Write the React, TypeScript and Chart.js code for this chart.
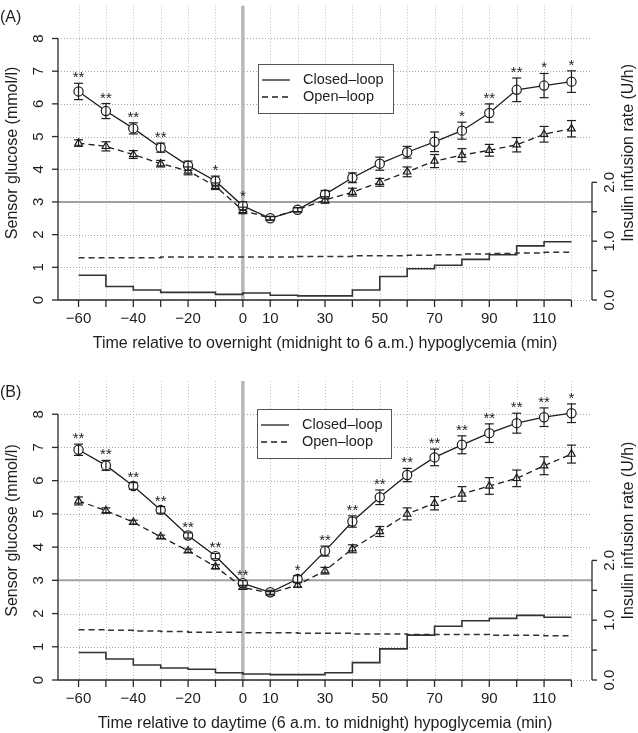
import React, { useEffect, useRef } from 'react';
import { Chart, registerables } from 'chart.js';

Chart.register(...registerables);

const FONT = '"Liberation Sans", Arial, Helvetica, sans-serif';
const INK = '#1e1e1e';

// ---------- data ----------
const minutes = [-60, -50, -40, -30, -20, -10, 0, 10, 20, 30, 40, 50, 60, 70, 80, 90, 100, 110, 120];
const xLabelValues = [-60, -40, -20, 0, 10, 30, 50, 70, 90, 110];
const glucoseTicks = [0, 1, 2, 3, 4, 5, 6, 7, 8];
const insulinTicks = [0, 0.5, 1, 1.5, 2];
const insulinLabelTicks = [0, 1, 2];

// Panel A (overnight)
const closedA = [6.38, 5.78, 5.25, 4.66, 4.11, 3.64, 2.88, 2.5, 2.76, 3.23, 3.74, 4.17, 4.52, 4.84, 5.18, 5.72, 6.43, 6.56, 6.68];
const closedErrA = [0.25, 0.23, 0.17, 0.14, 0.14, 0.15, 0.12, 0.06, 0.07, 0.12, 0.15, 0.2, 0.18, 0.3, 0.26, 0.28, 0.36, 0.37, 0.33];
const openA = [4.8, 4.7, 4.45, 4.17, 3.95, 3.48, 2.74, 2.5, 2.76, 3.06, 3.3, 3.6, 3.92, 4.25, 4.43, 4.58, 4.75, 5.07, 5.24];
const openErrA = [0.1, 0.14, 0.12, 0.1, 0.12, 0.1, 0.1, 0.05, 0.06, 0.1, 0.12, 0.12, 0.15, 0.2, 0.2, 0.18, 0.22, 0.24, 0.25];
const starsA = ['**', '**', '**', '**', '', '*', '*', '', '', '', '', '', '', '', '*', '**', '**', '*', '*'];
const insulinClosedA = [0.42, 0.23, 0.17, 0.13, 0.13, 0.095, 0.12, 0.08, 0.07, 0.07, 0.17, 0.4, 0.53, 0.59, 0.69, 0.77, 0.92, 0.99];
const insulinOpenA = [0.72, 0.72, 0.72, 0.73, 0.73, 0.73, 0.73, 0.73, 0.74, 0.74, 0.75, 0.75, 0.76, 0.77, 0.78, 0.79, 0.8, 0.81];

// Panel B (daytime)
const closedB = [6.93, 6.46, 5.84, 5.12, 4.35, 3.73, 2.91, 2.64, 3.04, 3.88, 4.77, 5.5, 6.17, 6.7, 7.08, 7.43, 7.73, 7.91, 8.03];
const closedErrB = [0.17, 0.15, 0.1, 0.1, 0.08, 0.08, 0.08, 0.06, 0.1, 0.15, 0.17, 0.22, 0.2, 0.25, 0.27, 0.28, 0.3, 0.28, 0.28];
const openB = [5.39, 5.1, 4.75, 4.31, 3.89, 3.41, 2.79, 2.61, 2.86, 3.29, 3.95, 4.47, 5.0, 5.32, 5.6, 5.84, 6.07, 6.45, 6.8];
const openErrB = [0.12, 0.08, 0.06, 0.05, 0.05, 0.06, 0.06, 0.05, 0.07, 0.1, 0.12, 0.15, 0.18, 0.2, 0.22, 0.25, 0.25, 0.27, 0.27];
const starsB = ['**', '**', '**', '**', '**', '**', '**', '', '*', '**', '**', '**', '**', '**', '**', '**', '**', '**', '*'];
const insulinClosedB = [0.46, 0.35, 0.25, 0.2, 0.18, 0.12, 0.1, 0.09, 0.09, 0.12, 0.29, 0.52, 0.75, 0.9, 0.99, 1.03, 1.08, 1.05];
const insulinOpenB = [0.84, 0.83, 0.82, 0.81, 0.8, 0.8, 0.79, 0.79, 0.78, 0.78, 0.77, 0.77, 0.76, 0.76, 0.76, 0.75, 0.75, 0.74];

const seriesNames = ['Closed\u2013loop', 'Open\u2013loop'];
const yTitle = 'Sensor glucose (mmol/l)';
const y2Title = 'Insulin infusion rate (U/h)';

interface PanelSpec {
  label: string;
  xTitle: string;
  closed: number[];
  closedErr: number[];
  open: number[];
  openErr: number[];
  stars: string[];
  insulinClosed: number[];
  insulinOpen: number[];
  height: number;
  padTop: number;
  padBottom: number;
  legend: { left: number; top: number; width: number; height: number };
}

const panels: PanelSpec[] = [
  {
    label: '(A)',
    xTitle: 'Time relative to overnight (midnight to 6 a.m.) hypoglycemia (min)',
    closed: closedA, closedErr: closedErrA, open: openA, openErr: openErrA, stars: starsA,
    insulinClosed: insulinClosedA, insulinOpen: insulinOpenA,
    height: 366, padTop: 1, padBottom: 66,
    legend: { left: 258, top: 64, width: 135, height: 49 },
  },
  {
    label: '(B)',
    xTitle: 'Time relative to daytime (6 a.m. to midnight) hypoglycemia (min)',
    closed: closedB, closedErr: closedErrB, open: openB, openErr: openErrB, stars: starsB,
    insulinClosed: insulinClosedB, insulinOpen: insulinOpenB,
    height: 367, padTop: 15, padBottom: 53,
    legend: { left: 257, top: 43, width: 134, height: 49 },
  },
];

function vtext(ctx: CanvasRenderingContext2D, s: string, x: number, y: number) {
  ctx.save();
  ctx.translate(x, y);
  ctx.rotate(-Math.PI / 2);
  ctx.textAlign = 'center';
  ctx.textBaseline = 'middle';
  ctx.fillText(s, 0, 0);
  ctx.restore();
}

function seg(ctx: CanvasRenderingContext2D, x1: number, y1: number, x2: number, y2: number) {
  ctx.beginPath();
  ctx.moveTo(x1, y1);
  ctx.lineTo(x2, y2);
  ctx.stroke();
}

function makePlugin(p: PanelSpec) {
  return {
    id: 'rstyle' + p.label,
    beforeDatasetsDraw(chart: any) {
      const { ctx, chartArea: a, scales } = chart;
      const x = scales.x, y = scales.y;
      ctx.save();
      ctx.lineWidth = 1;
      ctx.setLineDash([1, 2]);
      ctx.strokeStyle = '#c4c4c4';
      for (const m of minutes) {
        const px = Math.round(x.getPixelForValue(m)) + 0.5;
        seg(ctx, px, a.top, px, a.bottom);
      }
      ctx.strokeStyle = '#a6a6a6';
      for (const v of glucoseTicks) {
        const py = Math.round(y.getPixelForValue(v)) + 0.5;
        seg(ctx, a.left, py, a.right, py);
      }
      ctx.setLineDash([]);
      ctx.strokeStyle = '#b8b8b8';
      ctx.lineWidth = 3.5;
      const x0 = x.getPixelForValue(0);
      seg(ctx, x0, a.top, x0, a.bottom);
      ctx.strokeStyle = '#a0a0a0';
      ctx.lineWidth = 2;
      const y3 = y.getPixelForValue(3);
      seg(ctx, a.left, y3, a.right, y3);
      ctx.restore();
    },
    afterDatasetsDraw(chart: any) {
      const { ctx, chartArea: a, scales } = chart;
      const x = scales.x, y = scales.y, y2 = scales.y2;
      ctx.save();
      // error bars
      ctx.strokeStyle = INK;
      ctx.lineWidth = 1.2;
      const bars: [number[], number[]][] = [[p.closed, p.closedErr], [p.open, p.openErr]];
      for (const [vals, errs] of bars) {
        vals.forEach((v, i) => {
          const px = x.getPixelForValue(minutes[i]);
          const t = y.getPixelForValue(v + errs[i]);
          const b = y.getPixelForValue(v - errs[i]);
          seg(ctx, px, t, px, b);
          seg(ctx, px - 4.5, t, px + 4.5, t);
          seg(ctx, px - 4.5, b, px + 4.5, b);
        });
      }
      // significance stars
      ctx.fillStyle = INK;
      ctx.font = `15px ${FONT}`;
      ctx.textAlign = 'center';
      ctx.textBaseline = 'alphabetic';
      p.stars.forEach((s, i) => {
        if (!s) return;
        const top = Math.max(p.closed[i] + p.closedErr[i], p.open[i] + p.openErr[i]);
        ctx.fillText(s, x.getPixelForValue(minutes[i]), y.getPixelForValue(top) - 1);
      });

      // axes
      ctx.strokeStyle = '#2a2a2a';
      ctx.lineWidth = 1.3;
      const yb = y.getPixelForValue(0);
      // left axis
      seg(ctx, a.left, yb, a.left, y.getPixelForValue(8));
      ctx.font = `15px ${FONT}`;
      for (const v of glucoseTicks) {
        const py = y.getPixelForValue(v);
        seg(ctx, a.left - 6, py, a.left, py);
        vtext(ctx, String(v), a.left - 19, py);
      }
      // bottom axis
      seg(ctx, a.left, yb, x.getPixelForValue(120), yb);
      for (const m of minutes) {
        const px = x.getPixelForValue(m);
        seg(ctx, px, yb, px, yb + 7);
      }
      ctx.textAlign = 'center';
      ctx.textBaseline = 'middle';
      for (const m of xLabelValues) {
        ctx.fillText(m < 0 ? '\u2212' + Math.abs(m) : String(m), x.getPixelForValue(m), yb + 19);
      }
      // right axis
      const rx = a.right;
      seg(ctx, rx, y2.getPixelForValue(0), rx, y2.getPixelForValue(2));
      for (const v of insulinTicks) {
        const py = y2.getPixelForValue(v);
        seg(ctx, rx, py, rx + 5, py);
      }
      for (const v of insulinLabelTicks) {
        vtext(ctx, v.toFixed(1), rx + 18, y2.getPixelForValue(v));
      }
      // titles
      ctx.font = `16px ${FONT}`;
      const midY = (a.top + a.bottom) / 2;
      vtext(ctx, yTitle, 13, midY);
      vtext(ctx, y2Title, 629, midY);
      ctx.textAlign = 'center';
      ctx.textBaseline = 'middle';
      ctx.fillText(p.xTitle, (a.left + a.right) / 2, yb + 44);
      ctx.textAlign = 'left';
      ctx.fillText(p.label, 0, a.top + 12);

      // legend
      const L = p.legend;
      ctx.fillStyle = '#ffffff';
      ctx.fillRect(L.left, L.top, L.width, L.height);
      ctx.strokeStyle = '#555';
      ctx.lineWidth = 1;
      ctx.strokeRect(L.left + 0.5, L.top + 0.5, L.width, L.height);
      ctx.strokeStyle = INK;
      ctx.lineWidth = 1.3;
      const rows = [L.top + 16, L.top + 33];
      seg(ctx, L.left + 4, rows[0], L.left + 32, rows[0]);
      ctx.setLineDash([6, 4]);
      seg(ctx, L.left + 4, rows[1], L.left + 32, rows[1]);
      ctx.setLineDash([]);
      ctx.fillStyle = INK;
      ctx.font = `14.5px ${FONT}`;
      ctx.textAlign = 'left';
      ctx.textBaseline = 'middle';
      ctx.fillText(seriesNames[0], L.left + 45, rows[0]);
      ctx.fillText(seriesNames[1], L.left + 45, rows[1]);
      ctx.restore();
    },
  };
}

function pts(vals: number[]) {
  return minutes.map((m, i) => ({ x: m, y: vals[Math.min(i, vals.length - 1)] }));
}

function makeConfig(p: PanelSpec): any {
  return {
    type: 'line',
    data: {
      datasets: [
        {
          label: seriesNames[0], data: pts(p.closed), yAxisID: 'y',
          borderColor: INK, borderWidth: 1.3, tension: 0,
          pointStyle: 'circle', pointRadius: 4.6, pointBorderWidth: 1.2,
          pointBackgroundColor: '#fff', pointBorderColor: INK,
        },
        {
          label: seriesNames[1], data: pts(p.open), yAxisID: 'y',
          borderColor: INK, borderWidth: 1.3, borderDash: [6, 4], tension: 0,
          pointStyle: 'triangle', pointRadius: 4.3, pointBorderWidth: 1.2,
          pointBackgroundColor: '#fff', pointBorderColor: INK,
        },
        {
          label: 'insulin closed', data: pts(p.insulinClosed), yAxisID: 'y2',
          borderColor: '#333', borderWidth: 1.6, stepped: true, pointRadius: 0,
        },
        {
          label: 'insulin open', data: pts(p.insulinOpen), yAxisID: 'y2',
          borderColor: '#333', borderWidth: 1.5, borderDash: [6, 4], stepped: true, pointRadius: 0,
        },
      ],
    },
    options: {
      animation: false,
      responsive: false,
      maintainAspectRatio: false,
      events: [],
      layout: { padding: { left: 58, right: 46, top: p.padTop, bottom: p.padBottom } },
      plugins: { legend: { display: false }, tooltip: { enabled: false }, title: { display: false } },
      scales: {
        x: { type: 'linear', min: -67.5, max: 127.5, display: false },
        y: { type: 'linear', min: 0, max: 9, display: false },
        y2: { type: 'linear', min: 0, max: 5, display: false, position: 'right' },
      },
    },
    plugins: [makePlugin(p)],
  };
}

function Panel({ spec, top }: { spec: PanelSpec; top: number }) {
  const ref = useRef<HTMLCanvasElement | null>(null);
  useEffect(() => {
    if (!ref.current) return;
    const chart = new Chart(ref.current, makeConfig(spec));
    return () => chart.destroy();
  }, [spec]);
  return (
    <canvas
      ref={ref}
      width={638}
      height={spec.height}
      style={{ position: 'absolute', left: 0, top, width: 638, height: spec.height, display: 'block' }}
    />
  );
}

export default function App() {
  return (
    <div style={{ position: 'fixed', left: 0, top: 0, width: 638, height: 733, background: '#fff', overflow: 'hidden' }}>
      <Panel spec={panels[0]} top={0} />
      <Panel spec={panels[1]} top={366} />
    </div>
  );
}
